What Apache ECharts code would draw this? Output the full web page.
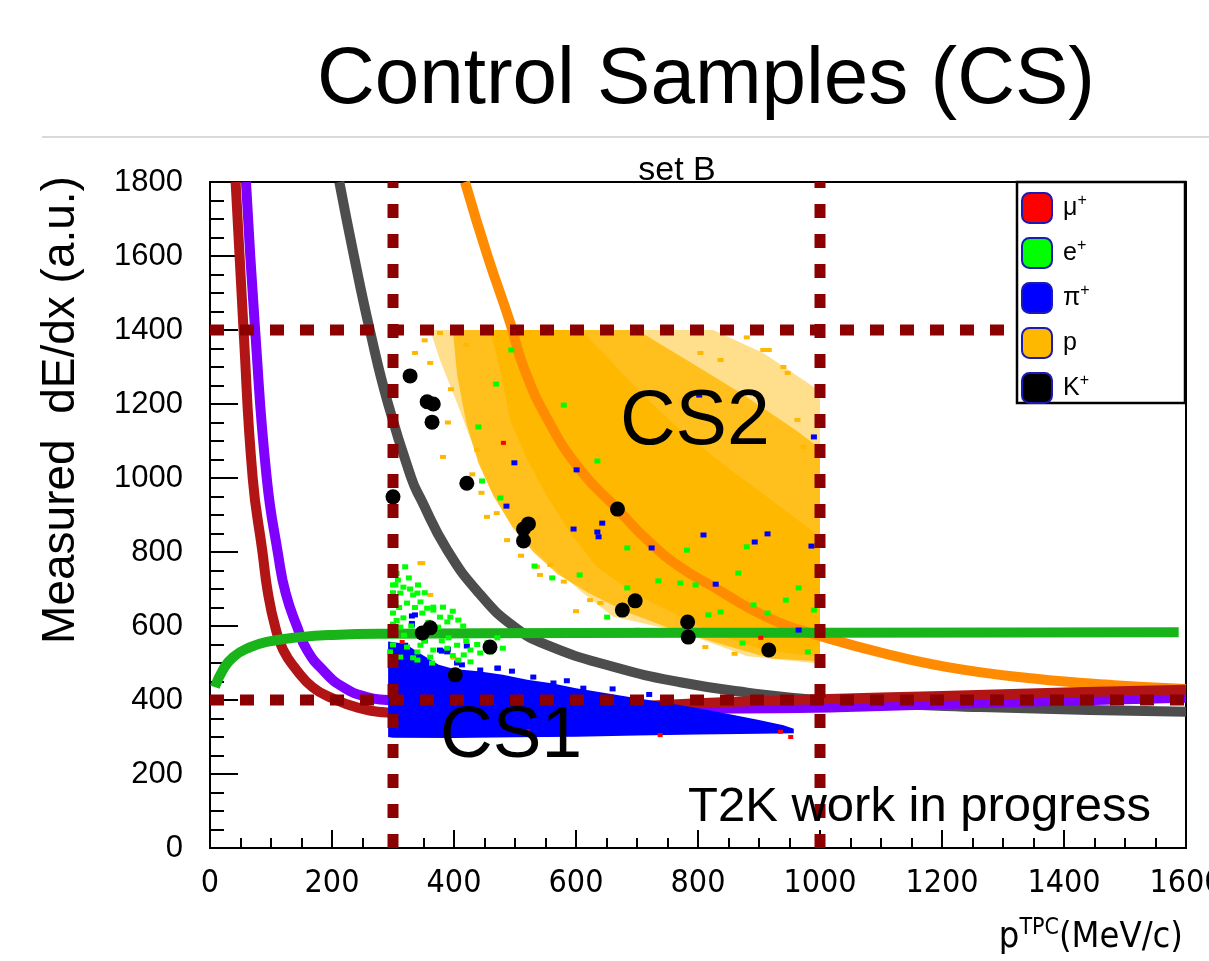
<!DOCTYPE html>
<html>
<head>
<meta charset="utf-8">
<title>Control Samples (CS)</title>
<script src="https://cdn.jsdelivr.net/npm/echarts@6/dist/echarts.min.js"></script>
<style>
  html, body { margin: 0; padding: 0; background: #fff; }
  #chart { width: 1209px; height: 961px; }
</style>
</head>
<body>
<div id="chart"></div>
<script>
// expected dE/dx bands
const muonCurve = [[42,1800],[55,1400],[70,1000],[86,800],[95,689],[107,597],[120,535],[142,481],[168,435],[200,405],[241,380],[290,366],[350,362],[400,364],[500,368],[600,375],[700,383],[800,391],[900,397],[1000,402],[1200,411],[1400,420],[1600,428]];
const pionCurve = [[59,1800],[74,1400],[93,1000],[112,790],[124,689],[143,597],[159,535],[185,481],[218,435],[257,408],[290,400],[350,392],[400,388],[500,382],[600,379],[700,377],[800,377],[935,378],[1100,384],[1264,392],[1400,398],[1600,406]];
const kaonCurve = [[212,1800],[236,1600],[262,1400],[292,1200],[330,1000],[345,945],[389,805],[443,685],[497,600],[553,548],[661,490],[771,448],[881,420],[1000,400],[1264,381],[1600,368]];
const protonCurve = [[418,1800],[455,1600],[492,1420],[514,1300],[553,1160],[607,1022],[668,916],[717,832],[771,759],[825,706],[881,651],[935,608],[990,578],[1100,528],[1209,489],[1350,458],[1482,440],[1600,430]];
const electronCurve = [[8,435],[21,481],[38,516],[66,543],[93,557],[148,570],[202,576],[295,579],[600,581],[1000,582],[1588,583]];

// control sample cuts
const cutMomentum = [300, 1000];
const cutDedx = [400, 1400];

// proton cloud outlines (dense core, middle, sparse halo)
const protonCore = [[459,1400],[476,1292],[492,1157],[520,1049],[553,949],[591,851],[635,759],[694,689],[760,635],[825,581],[907,535],[1000,516],[1000,841],[935,922],[853,1022],[771,1130],[706,1230],[651,1327],[607,1400]];
const protonMid = [[398,1400],[700,1400],[780,1320],[870,1230],[960,1130],[1000,1080],[1000,505],[920,512],[840,550],[760,590],[680,640],[620,690],[570,740],[530,800],[495,870],[465,950],[440,1040],[420,1150],[405,1280]];
const protonHalo = [[361,1400],[825,1400],[907,1338],[990,1246],[1000,1230],[1000,498],[881,518],[771,585],[661,625],[607,695],[553,772],[497,862],[459,972],[432,1084],[405,1203],[377,1319]];
const protonDots = [[345,770],[361,684],[536,760],[558,765],[399,514],[541,738],[623,670],[640,662],[812,543],[377,1392],[336,1338],[361,1311],[382,1057],[438,1076],[454,895],[487,832],[348,770],[947,1284],[907,1346],[916,1346],[804,1338],[837,1319],[973,1084],[963,1157],[420,1360],[395,1240],[470,905],[600,640],[700,590],[860,525],[430,1010],[445,960],[510,790],[580,720],[352,1372],[390,1150],[880,1380],[940,1300]];

// pion band outline
const pionBand = [[292,558],[320,552],[345,525],[375,495],[400,484],[440,478],[480,468],[520,455],[560,445],[600,432],[650,418],[700,405],[750,392],[800,378],[850,362],[900,346],[940,332],[957,322],[957,310],[900,309],[800,307],[700,304],[600,301],[500,299],[400,297],[300,298],[292,300]];
const pionDots = [[336,630],[331,607],[380,532],[390,537],[421,546],[320,548],[472,486],[443,481],[530,462],[563,446],[612,432],[377,535],[389,530],[405,500],[413,495],[471,486],[499,1041],[601,1022],[486,924],[596,862],[643,878],[635,854],[637,841],[724,811],[809,846],[893,827],[914,849],[986,816],[990,1111],[829,713],[802,1224],[965,589],[331,627],[331,603],[930,322],[945,318],[352,560],[495,478],[585,452],[660,430],[720,415]];

const electronDots = [[320,760],[300,711],[317,705],[341,711],[312,689],[333,684],[304,662],[323,662],[345,665],[366,651],[382,651],[300,635],[317,622],[348,635],[377,624],[389,611],[312,597],[374,597],[300,549],[323,543],[340,530],[366,535],[389,540],[312,516],[333,514],[361,516],[295,530],[308,724],[304,711],[340,689],[366,643],[394,624],[407,616],[391,568],[427,535],[443,527],[471,568],[407,508],[427,503],[364,500],[340,508],[306,742],[326,730],[300,690],[328,700],[352,690],[310,650],[336,650],[356,648],[398,640],[415,600],[420,560],[405,548],[438,550],[455,555],[352,560],[380,560],[306,615],[358,610],[330,600],[300,605],[318,575],[345,548],[398,520],[416,522],[480,540],[460,530],[494,1346],[469,1254],[580,1197],[440,1138],[635,1046],[446,992],[476,946],[684,811],[782,805],[880,814],[866,743],[532,762],[561,730],[606,738],[735,722],[771,716],[796,711],[891,657],[944,670],[965,703],[914,635],[817,630],[837,638],[873,554],[980,530],[990,643],[684,703],[651,624]];
const muonDots = [[481,1095],[903,568],[738,305],[935,314],[952,300],[315,557],[520,315]];
const kaonDots = [[328,1276],[356,1206],[366,1200],[364,1151],[421,986],[300,949],[522,876],[514,862],[514,830],[668,916],[697,668],[676,643],[783,611],[784,570],[916,535],[361,595],[348,581],[459,543],[402,468]];

const legendNames = ['μ+', 'e+', 'π+', 'p', 'K+'];
const legendColors = ['#ff0000', '#00ff00', '#0000ff', '#ffb800', '#000000'];

const ORANGE = '#ffb800';
const SANS = "'Liberation Sans', Arial, Helvetica, sans-serif";
const NARROW = "'Liberation Sans Narrow', 'DejaVu Sans Condensed', 'Liberation Sans', sans-serif";

var myChart = echarts.init(document.getElementById('chart'));

function area(name, pts, color, opacity, z) {
  return {
    name: name,
    type: 'custom',
    coordinateSystem: 'cartesian2d',
    z: z,
    silent: true,
    clip: true,
    data: [pts[0]],
    renderItem: function (params, api) {
      return {
        type: 'polygon',
        shape: { points: pts.map(function (p) { return api.coord(p) }) },
        style: { fill: color, opacity: opacity }
      }
    }
  }
}

function curve(pts, color, width) {
  return {
    type: 'line',
    data: pts,
    z: 3,
    symbol: 'none',
    smooth: 0.5,
    silent: true,
    lineStyle: { color: color, width: width, cap: 'butt', join: 'round' }
  }
}

function dots(name, pts, color, size, symbol, z) {
  return {
    name: name,
    type: 'scatter',
    data: pts,
    z: z,
    silent: true,
    symbol: symbol,
    symbolSize: size,
    itemStyle: { color: color, opacity: 1 }
  }
}

function cutLine(pts) {
  return {
    type: 'line',
    data: pts,
    z: 6,
    symbol: 'none',
    silent: true,
    lineStyle: { color: '#8b0000', width: 11, type: [14, 16], cap: 'butt' }
  }
}

myChart.setOption({
  animation: false,
  grid: {
    left: 210, right: 23, top: 182, bottom: 113,
    containLabel: false,
    outerBoundsMode: 'none',
    show: true, borderColor: '#000', borderWidth: 2
  },
  xAxis: {
    type: 'value', min: 0, max: 1600, interval: 200,
    axisLine: { lineStyle: { color: '#000', width: 2 } },
    axisTick: { inside: true, length: 18, lineStyle: { color: '#000', width: 2 } },
    minorTick: { show: true, splitNumber: 4, length: 10, lineStyle: { color: '#000', width: 2 } },
    splitLine: { show: false },
    axisLabel: { color: '#000', fontSize: 32, fontFamily: NARROW, margin: 20, formatter: function (v) { return String(v) } }
  },
  yAxis: {
    type: 'value', min: 0, max: 1800, interval: 200,
    axisLine: { lineStyle: { color: '#000', width: 2 } },
    axisTick: { inside: true, length: 28, lineStyle: { color: '#000', width: 2 } },
    minorTick: { show: true, splitNumber: 4, length: 14, lineStyle: { color: '#000', width: 2 } },
    splitLine: { show: false },
    axisLabel: { color: '#000', fontSize: 31, fontFamily: SANS, margin: 27, formatter: function (v) { return String(v) } }
  },
  legend: {
    orient: 'vertical',
    left: 1021, top: 192,
    selectedMode: false,
    padding: 0,
    itemWidth: 30, itemHeight: 30, itemGap: 13,
    z: 21,
    data: legendNames.map(function (n, i) {
      return { name: n, icon: 'roundRect', itemStyle: { color: legendColors[i], opacity: 1, borderColor: '#1a1ab4', borderWidth: 2 } }
    }),
    formatter: function (name) {
      if (name.indexOf('+') > 0) return '{n|' + name.replace('+', '') + '}{s|+}'
      return '{n|' + name + '}'
    },
    textStyle: {
      rich: {
        n: { fontSize: 25, fontFamily: SANS, color: '#000', padding: [0, 0, 0, 6] },
        s: { fontSize: 16, fontFamily: SANS, color: '#000', verticalAlign: 'top', padding: [0, 0, 14, 0] }
      }
    }
  },
  graphic: [
    { type: 'text', x: 706, y: 121, z: 30, style: { text: 'Control Samples (CS)', font: '80px ' + SANS, fill: '#000', textAlign: 'center', textVerticalAlign: 'bottom' } },
    { type: 'line', z: 30, shape: { x1: 42, y1: 137, x2: 1209, y2: 137 }, style: { stroke: '#cccccc', lineWidth: 1.5 } },
    { type: 'text', x: 677, y: 188, z: 30, style: { text: 'set B', font: '34px ' + SANS, fill: '#000', textAlign: 'center', textVerticalAlign: 'bottom' } },
    { type: 'rect', z: 20, shape: { x: 1017, y: 182, width: 168, height: 221 }, style: { fill: '#fff', stroke: '#000', lineWidth: 2.5 } },
    { type: 'text', x: 61, y: 410, z: 30, rotation: Math.PI / 2, style: { text: 'Measured  dE/dx (a.u.)', font: '46px ' + SANS, fill: '#000', textAlign: 'center', textVerticalAlign: 'middle' } },
    {
      type: 'text', x: 1183, y: 958, z: 30,
      style: {
        text: '{a|p}{b|TPC}{a|(MeV/c)}',
        textAlign: 'right', textVerticalAlign: 'bottom',
        rich: {
          a: { fontSize: 36, fontFamily: NARROW, fill: '#000' },
          b: { fontSize: 23, fontFamily: NARROW, fill: '#000', verticalAlign: 'top', padding: [0, 0, 18, 0] }
        }
      }
    },
    { type: 'text', x: 620, y: 461, z: 30, style: { text: 'CS2', font: '77px ' + SANS, fill: '#000', textAlign: 'left', textVerticalAlign: 'bottom' } },
    { type: 'text', x: 440, y: 773, z: 30, style: { text: 'CS1', font: '73px ' + SANS, fill: '#000', textAlign: 'left', textVerticalAlign: 'bottom' } },
    { type: 'text', x: 688, y: 832, z: 30, style: { text: 'T2K work in progress', font: '49px ' + SANS, fill: '#000', textAlign: 'left', textVerticalAlign: 'bottom' } }
  ],
  series: [
    area('p', protonHalo, ORANGE, 0.45, 1),
    area('p', protonMid, ORANGE, 0.8, 1),
    area('p', protonCore, ORANGE, 1, 1),
    dots('p', protonDots, ORANGE, [6, 4], 'rect', 2),
    curve(protonCurve, '#ff8c00', 10),
    curve(kaonCurve, '#4d4d4d', 10),
    curve(pionCurve, '#7f00ff', 10),
    curve(muonCurve, '#b21515', 10),
    area('π+', pionBand, '#0000ff', 1, 4),
    dots('π+', pionDots, '#0000ff', [6, 5], 'rect', 4),
    dots('μ+', muonDots, '#ff0000', [5, 4], 'rect', 4),
    curve(electronCurve, '#19b419', 10),
    dots('e+', electronDots, '#00ff00', [6, 5], 'rect', 4),
    cutLine([[cutMomentum[0], 0], [cutMomentum[0], 1800]]),
    cutLine([[cutMomentum[1], 0], [cutMomentum[1], 1800]]),
    cutLine([[0, cutDedx[0]], [1600, cutDedx[0]]]),
    cutLine([[0, cutDedx[1]], [1600, cutDedx[1]]]),
    dots('K+', kaonDots, '#000000', 15, 'circle', 7)
  ]
});
</script>
</body>
</html>
